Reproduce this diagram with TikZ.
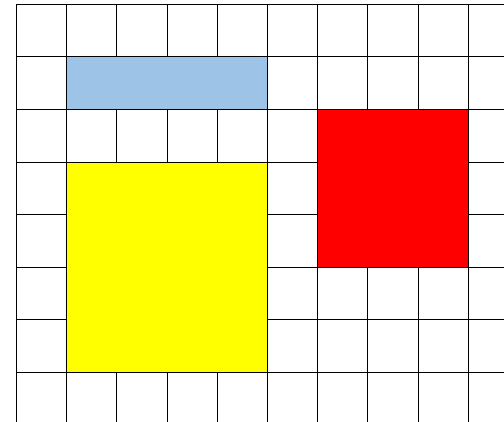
\documentclass[tikz,border=0pt]{standalone}
\usepackage{tikz}
\definecolor{paleblue}{RGB}{157, 195, 230}
\definecolor{pureyellow}{RGB}{255, 255, 0}
\definecolor{purered}{RGB}{255, 0, 0}

\begin{document}
\begin{tikzpicture}[x=1cm, y=1.0472cm,
      gridline/.style={draw=black, line width=0.5pt},
      block/.style={draw=black, line width=0.5pt}]
    % --- frame: the grid runs off the right and bottom edges ---
    \useasboundingbox (-0.329,0.055) rectangle (9.711,8.082);
    \clip (-0.329,0.055) rectangle (9.711,8.082);
    % --- the grid ---
    \foreach \i in {0,...,10}
      \draw[gridline] (\i,-1) -- (\i,8);
    \foreach \j in {0,...,8}
      \draw[gridline] (0,\j) -- (11,\j);
    % --- the coloured blocks ---
    \filldraw[block, fill=paleblue]   (1,6) rectangle (5,7);
    \filldraw[block, fill=pureyellow] (1,1) rectangle (5,5);
    \filldraw[block, fill=purered]    (6,3) rectangle (9,6);
\end{tikzpicture}
\end{document}
